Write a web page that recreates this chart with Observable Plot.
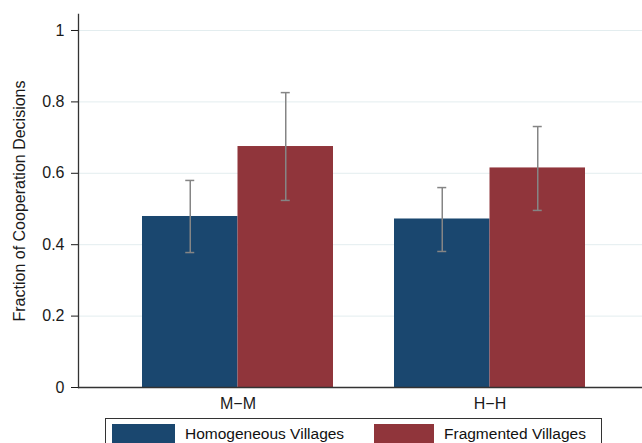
<!DOCTYPE html>
<html>
<head>
<meta charset="utf-8">
<script src="https://cdn.jsdelivr.net/npm/d3@7"></script>
<script src="https://cdn.jsdelivr.net/npm/@observablehq/plot@0.6"></script>
<style>
  html, body { margin: 0; padding: 0; background: #fff; }
  body { width: 642px; height: 443px; overflow: hidden; font-family: "Liberation Sans", Arial, sans-serif; }
  #legend { position: relative; margin-left: 105px; margin-top: 2px; width: 497px; height: 40px;
            border: 1px solid #333; box-sizing: border-box; font-size: 15.5px; color: #111; }
  .item { position: absolute; top: 5px; display: flex; align-items: center; }
  .sw { height: 20px; margin-right: 10px; }
</style>
</head>
<body>
<div id="chart"></div>
<div id="legend"></div>
<script>
const groups = ["M\u2212M", "H\u2212H"];
const seriesNames = ["Homogeneous Villages", "Fragmented Villages"];
const seriesColors = ["#1a476f", "#90353b"];
const homogeneous = [0.479, 0.472];
const fragmented = [0.675, 0.615];
const homogeneousLo = [0.378, 0.381];
const homogeneousHi = [0.580, 0.560];
const fragmentedLo = [0.524, 0.496];
const fragmentedHi = [0.826, 0.731];
const yTicks = [0, 0.2, 0.4, 0.6, 0.8, 1];
const yLabel = "Fraction of Cooperation Decisions";

const rows = [];
groups.forEach((g, i) => {
  rows.push({group: g, series: seriesNames[0], value: homogeneous[i], lo: homogeneousLo[i], hi: homogeneousHi[i]});
  rows.push({group: g, series: seriesNames[1], value: fragmented[i], lo: fragmentedLo[i], hi: fragmentedHi[i]});
});
const hom = rows.filter(d => d.series === seriesNames[0]);
const frag = rows.filter(d => d.series === seriesNames[1]);

const half = 95.5;   // half of group band width
const errColor = "#858585";

const chart = Plot.plot({
  width: 642,
  height: 416,
  marginLeft: 78,
  marginRight: 0,
  marginTop: 14,
  marginBottom: 29,
  style: {fontFamily: "'Liberation Sans', Arial, sans-serif", fontSize: "16px", color: "#1a1a1a", background: "#fff"},
  x: {type: "band", domain: groups, range: [78, 649.5], paddingInner: 0.2436, paddingOuter: 0.2535},
  y: {domain: [0, 1.0448]},
  marks: [
    Plot.ruleY(yTicks.filter(d => d > 0), {stroke: "#e3edef", strokeWidth: 1}),
    Plot.barY(hom, {x: "group", y: "value", fill: seriesColors[0], insetRight: half}),
    Plot.barY(frag, {x: "group", y: "value", fill: seriesColors[1], insetLeft: half}),
    Plot.ruleX(hom, {x: "group", y1: "lo", y2: "hi", dx: -half / 2, stroke: errColor, strokeWidth: 1.5}),
    Plot.ruleX(frag, {x: "group", y1: "lo", y2: "hi", dx: half / 2, stroke: errColor, strokeWidth: 1.5}),
    Plot.tickY(hom, {x: "group", y: "lo", stroke: errColor, strokeWidth: 1.5, insetLeft: 43.25, insetRight: 138.75}),
    Plot.tickY(hom, {x: "group", y: "hi", stroke: errColor, strokeWidth: 1.5, insetLeft: 43.25, insetRight: 138.75}),
    Plot.tickY(frag, {x: "group", y: "lo", stroke: errColor, strokeWidth: 1.5, insetLeft: 138.75, insetRight: 43.25}),
    Plot.tickY(frag, {x: "group", y: "hi", stroke: errColor, strokeWidth: 1.5, insetLeft: 138.75, insetRight: 43.25}),
    Plot.ruleY([0], {stroke: "#333", strokeWidth: 1.3}),
    Plot.frame({anchor: "left", stroke: "#333", strokeWidth: 1.3}),
    Plot.axisY({ticks: yTicks, tickFormat: d => String(d), tickSize: 7, tickPadding: 7, label: null, fontSize: 16}),
    Plot.axisX({tickSize: 0, tickPadding: 10, label: null, fontSize: 16}),
    Plot.text([yLabel], {text: d => d, frameAnchor: "left", textAnchor: "middle", rotate: -90, dx: -59, fontSize: 16, fill: "#1a1a1a"})
  ]
});
document.getElementById("chart").appendChild(chart);

const legend = document.getElementById("legend");
const lefts = [6, 268];
const swWidths = [63, 60];
seriesNames.forEach((name, i) => {
  const item = document.createElement("div");
  item.className = "item";
  item.style.left = lefts[i] + "px";
  const sw = document.createElement("span");
  sw.className = "sw";
  sw.style.background = seriesColors[i];
  sw.style.width = swWidths[i] + "px";
  const label = document.createElement("span");
  label.textContent = name;
  item.appendChild(sw);
  item.appendChild(label);
  legend.appendChild(item);
});
</script>
</body>
</html>
